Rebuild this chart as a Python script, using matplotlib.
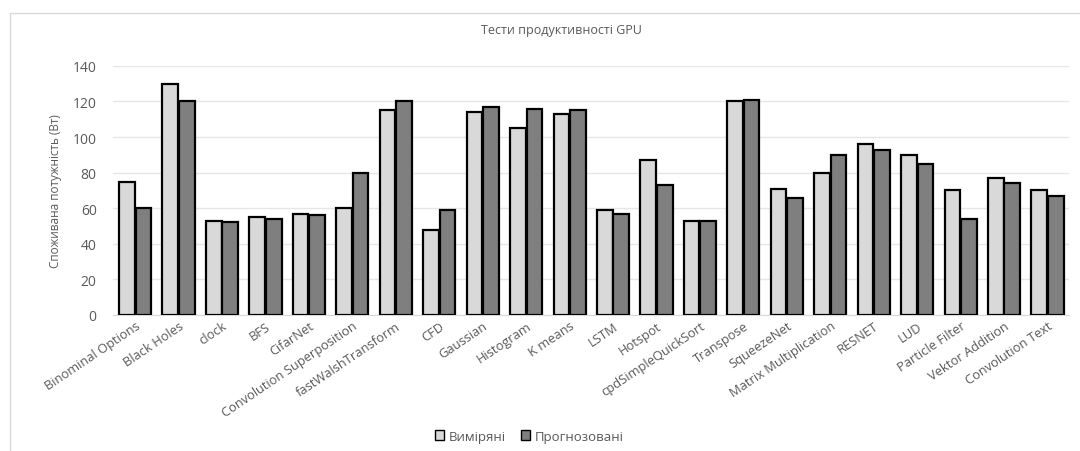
import numpy as np
import matplotlib.pyplot as plt

categories = ['Binominal Options', 'Black Holes', 'clock', 'BFS', 'CifarNet',
              'Convolution Superposition', 'fastWalshTransform', 'CFD', 'Gaussian',
              'Histogram', 'K means', 'LSTM', 'Hotspot', 'cpdSimpleQuickSort',
              'Transpose', 'SqueezeNet', 'Matrix Multiplication', 'RESNET', 'LUD',
              'Particle Filter', 'Vektor Addition', 'Convolution Text']
measured = [75, 130, 53, 55, 57, 60, 115, 48, 114, 105, 113, 59, 87, 53, 120,
            71, 80, 96, 90, 70, 77, 70]
predicted = [60, 120, 52, 54, 56, 80, 120, 59, 117, 116, 115, 57, 73, 53, 121,
             66, 90, 93, 85, 54, 74, 67]
yticks = [0, 20, 40, 60, 80, 100, 120, 140]

plt.rcParams['font.family'] = ['Open Sans', 'DejaVu Sans']
txt = '#595959'

fig = plt.figure(figsize=(10.8, 4.52), dpi=100)
ax = fig.add_axes([0.105, 0.301, 0.885, 0.551])

x = np.arange(len(categories))
w = 0.36
ax.bar(x - w / 2 - 0.01, measured, w, color='#d9d9d9', edgecolor='black',
       linewidth=1.6, label='Виміряні', zorder=3)
ax.bar(x + w / 2 + 0.01, predicted, w, color='#7f7f7f', edgecolor='black',
       linewidth=1.6, label='Прогнозовані', zorder=3)

ax.set_xlim(-0.5, len(categories) - 0.5)
ax.set_ylim(0, 140)
ax.set_yticks(yticks)
ax.tick_params(axis='y', length=0, labelsize=10, colors=txt, pad=12)
ax.tick_params(axis='x', length=0, pad=3)
ax.set_xticks(x)
ax.set_xticklabels(categories, rotation=34, ha='right', rotation_mode='anchor',
                   fontsize=9.3, color=txt)
ax.grid(axis='y', color='#e6e6e6', linewidth=1, zorder=0)
for s in ['top', 'right', 'left']:
    ax.spines[s].set_visible(False)
ax.spines['bottom'].set_color('#d9d9d9')

ax.set_ylabel('Споживана потужність (Вт)', fontsize=8.5, color=txt, labelpad=8)
fig.text(0.52, 0.932, 'Тести продуктивності GPU', ha='center', va='center',
         fontsize=9, color=txt)

fig.legend(loc='center', bbox_to_anchor=(0.49, 0.033), ncol=2, frameon=False,
           fontsize=9.5, labelcolor=txt, handlelength=0.7, handleheight=0.7,
           handletextpad=0.3, columnspacing=1.2)
for h in fig.legends[0].legend_handles:
    h.set_linewidth(1)

fig.add_artist(plt.Rectangle((0.009, -0.01), 1.0, 0.98, transform=fig.transFigure,
                             fill=False, edgecolor='#d9d9d9', linewidth=1))

fig.savefig('out.png', dpi=100)
